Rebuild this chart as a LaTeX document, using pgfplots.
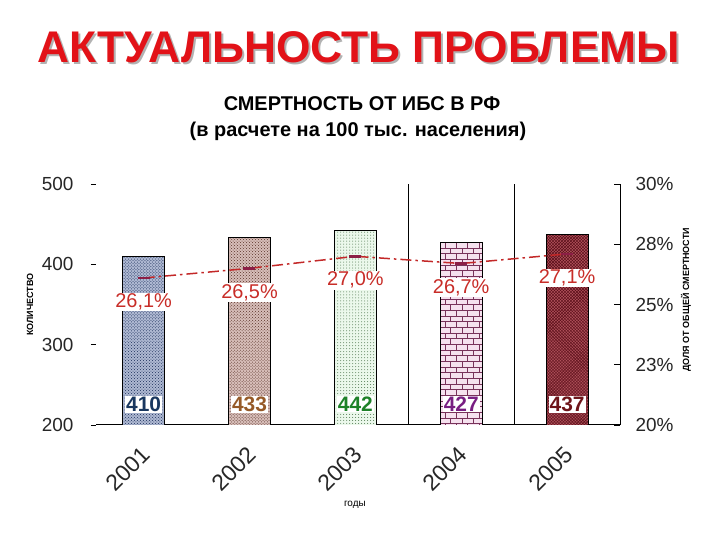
\documentclass[border=0pt]{standalone}
\usepackage{fontspec}
\setmainfont{Liberation Sans}
\usepackage{pgfplots}
\pgfplotsset{compat=1.18}
\usetikzlibrary{patterns}
\definecolor{titlered}{RGB}{226,18,24}
\definecolor{pctred}{RGB}{200,45,40}
\definecolor{linered}{RGB}{195,40,40}
\definecolor{markmaroon}{RGB}{140,30,70}
\definecolor{c1}{RGB}{25,45,90}
\definecolor{c1bg}{RGB}{175,185,210}
\definecolor{c2}{RGB}{90,50,40}
\definecolor{c2bg}{RGB}{215,190,185}
\definecolor{c3}{RGB}{80,120,80}
\definecolor{c3bg}{RGB}{235,248,235}
\definecolor{c4}{RGB}{120,50,90}
\definecolor{c4bg}{RGB}{245,225,238}
\definecolor{c5}{RGB}{90,15,25}
\definecolor{c5bg}{RGB}{175,80,90}
\definecolor{t1}{RGB}{25,55,95}
\definecolor{t2}{RGB}{150,90,40}
\definecolor{t3}{RGB}{30,130,40}
\definecolor{t4}{RGB}{120,30,130}
\definecolor{t5}{RGB}{110,20,25}
\pgfplotsset{/pgf/number format/assume math mode=true}
\begin{document}
\begin{tikzpicture}
\path[use as bounding box] (0bp,0bp) rectangle (720bp,540bp);
\node[text=black!30, font=\bfseries\fontsize{44.5}{50}\selectfont] at (360.5bp,490.5bp) {АКТУАЛЬНОСТЬ ПРОБЛЕМЫ};
\node[text=titlered, font=\bfseries\fontsize{44.5}{50}\selectfont] at (358.5bp,492.5bp) {АКТУАЛЬНОСТЬ ПРОБЛЕМЫ};
\node[font=\bfseries\fontsize{20}{24}\selectfont] at (362bp,436bp) {СМЕРТНОСТЬ ОТ ИБС В РФ};
\node[font=\bfseries\fontsize{20}{24}\selectfont] at (358bp,409bp) {(в расчете на 100 тыс. населения)};

\begin{axis}[
  at={(96bp,115bp)}, anchor=south west, scale only axis,
  width=524bp, height=241bp,
  xmin=0.55, xmax=5.5, ymin=200, ymax=500,
  axis x line*=bottom, axis y line*=left,
  axis line style={-, black, line width=1bp},
  y axis line style={draw=none},
  ytick={200,300,400,500},
  tick align=outside, major tick length=5bp,
  tick style={black, line width=0.8bp},
  xtick={1,2,3,4,5},
  xticklabels={2001,2002,2003,2004,2005},
  major x tick style={draw=none},
  extra x ticks={3.5,4.5}, extra x tick labels={},
  extra x tick style={grid=major, major grid style={draw=black, line width=0.8bp}, major tick length=0pt},
  ticklabel style={font=\fontsize{19}{22}\selectfont, text=black!85},
  yticklabel style={xshift=-14bp},
  xticklabel style={font=\fontsize{23}{26}\selectfont, inner sep=1bp, xshift=3bp, yshift=-20bp, rotate=45, anchor=east},
  xlabel={годы},
  every axis x label/.style={at={(rel axis cs:0.494,-0.332)}, anchor=center, font=\fontsize{10}{12}\selectfont},
  ylabel={КОЛИЧЕСТВО},
  every axis y label/.style={at={(rel axis cs:-0.126,0.5)}, rotate=90, anchor=center, font=\bfseries\fontsize{9}{10}\selectfont},
]
\addplot[ybar, bar width=42bp, bar shift=0pt, draw=black, line width=0.8bp, fill=c1bg, postaction={pattern=crosshatch dots, pattern color=c1}] coordinates {(1,410)};
\addplot[ybar, bar width=42bp, bar shift=0pt, draw=black, line width=0.8bp, fill=c2bg, postaction={pattern=crosshatch dots, pattern color=c2}] coordinates {(2,433)};
\addplot[ybar, bar width=42bp, bar shift=0pt, draw=black, line width=0.8bp, fill=c3bg, postaction={pattern=dots, pattern color=c3}] coordinates {(3,442)};
\addplot[ybar, bar width=42bp, bar shift=0pt, draw=black, line width=0.8bp, fill=c4bg, postaction={pattern=bricks, pattern color=c4}] coordinates {(4,427)};
\addplot[ybar, bar width=42bp, bar shift=0pt, draw=black, line width=0.8bp, fill=c5bg, postaction={pattern=crosshatch, pattern color=c5}] coordinates {(5,437)};
\node[fill=white, inner sep=1bp, minimum width=36bp, text=t1, font=\bfseries\fontsize{21}{24}\selectfont] at (axis cs:1,226) {410};
\node[fill=white, inner sep=1bp, minimum width=36bp, text=t2, font=\bfseries\fontsize{21}{24}\selectfont] at (axis cs:2,226) {433};
\node[fill=white, inner sep=1bp, minimum width=36bp, text=t3, font=\bfseries\fontsize{21}{24}\selectfont] at (axis cs:3,226) {442};
\node[fill=white, inner sep=1bp, minimum width=36bp, text=t4, font=\bfseries\fontsize{21}{24}\selectfont] at (axis cs:4,226) {427};
\node[fill=white, inner sep=1bp, minimum width=36bp, text=t5, font=\bfseries\fontsize{21}{24}\selectfont] at (axis cs:5,226) {437};
\end{axis}

\begin{axis}[
  at={(96bp,115bp)}, anchor=south west, scale only axis,
  width=524bp, height=241bp,
  xmin=0.55, xmax=5.5, ymin=20, ymax=30,
  axis x line=none, axis y line*=right,
  axis line style={-, black, line width=1bp},
  xtick=\empty,
  ytick={20,22.5,25,27.5,30},
  yticklabels={20\%,23\%,25\%,28\%,30\%},
  tick align=inside, major tick length=6bp,
  tick style={black, line width=0.8bp},
  ticklabel style={font=\fontsize{19}{22}\selectfont, text=black!85},
  yticklabel style={xshift=12bp},
  ylabel={ДОЛЯ ОТ ОБЩЕЙ СМЕРТНОСТИ},
  every axis y label/.style={at={(rel axis cs:1.126,0.52)}, rotate=90, anchor=center, font=\bfseries\fontsize{9}{10}\selectfont},
  clip=false,
]
\addplot[color=linered, line width=1.5bp, dash pattern=on 11bp off 4bp on 2.5bp off 4bp,
  mark=-, mark size=6bp, mark options={solid, draw=markmaroon, line width=2.5bp},
  point meta=y,
  nodes near coords={\pgfmathprintnumber[fixed,fixed zerofill,precision=1,use comma]{\pgfplotspointmeta}\%},
  every node near coord/.append style={anchor=center, yshift=-24bp, fill=white, inner sep=1bp, text=pctred, font=\fontsize{20}{24}\selectfont}]
  coordinates {(1,26.1) (2,26.5) (3,27.0) (4,26.7) (5,27.1)};
\end{axis}
\end{tikzpicture}
\end{document}
